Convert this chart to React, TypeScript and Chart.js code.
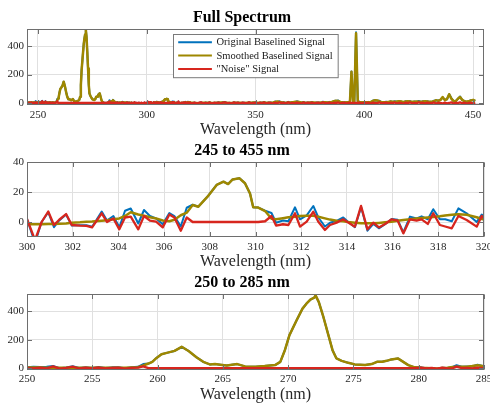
import React, { useEffect, useRef } from "react";
import { Chart, registerables } from "chart.js";

Chart.register(...registerables);

// ---------------- DATA ----------------
// Series labels
const seriesLabels = ["Original Baselined Signal", "Smoothed Baselined Signal", "\"Noise\" Signal"];

// Segment A: 245 - 249.5 nm (grid start 245, step 0.5)
const origA = [5, 0, 6, 1, 7, 0, 5, 1, 14, 0];
const smoothA = [3, 3, 3, 3, 3, 3, 3, 3, 3, 3];
const noiseA = [2, -3, 3, -2, 4, -3, 2, -2, 5, -3];

// Segment B1: 250 - 258.5 nm (grid start 250, step 0.5)
const origB1 = [6, 10, 7, 9, 15, -1, 5, 13, 0, 6, 1, 7, 0, 5, 6, -1, 6, 9];
const smoothB1 = [4, 4, 4, 3, 3, 3, 3, 3, 3, 3, 3, 3, 3, 3, 3, 3, 4, 6];
const noiseB1 = [2, -3, 3, -2, 12, -4, 2, 10, -3, 3, -2, 4, -3, 2, 3, -4, 2, 3];

// Segment B2: emission band 259 - 280 nm
const wlB2 = [258.9, 259.3, 259.6, 259.9, 260.3, 260.7, 261.3, 261.85, 262.4, 263.0, 263.5, 264.0, 264.4, 264.8, 265.3, 266.1, 266.7, 267.5, 268.2, 269.0, 269.4, 269.75, 270.1, 270.65, 271.1, 271.4, 271.7, 272.0, 272.1, 272.35, 272.7, 273.05, 273.4, 273.7, 274.1, 274.6, 275.1, 275.9, 276.4, 276.8, 277.2, 277.55, 277.9, 278.4, 278.7, 279.2, 279.7];
const origB2 = [28, 32, 44, 70, 98, 107, 121, 150, 119, 75, 44, 26, 28, 24, 19, 28, 12, 10, 14, 21, 44, 126, 232, 337, 419, 454, 482, 496, 512, 465, 360, 243, 126, 68, 51, 37, 26, 21, 28, 44, 44, 51, 61, 68, 51, 21, 5];
const smoothB2 = [18, 32, 44, 70, 98, 107, 121, 150, 119, 75, 44, 26, 28, 24, 19, 28, 12, 10, 14, 21, 44, 126, 232, 337, 419, 454, 482, 496, 512, 465, 360, 243, 126, 68, 51, 37, 26, 21, 28, 44, 44, 51, 61, 68, 51, 21, 5];
const noiseB2 = [12, 0, 0, 0, 0, 0, 0, 0, 0, 0, 0, 0, 0, 0, 0, 0, 0, 0, 0, 0, 0, 0, 0, 0, 0, 0, 0, 0, 0, 0, 0, 0, 0, 0, 0, 0, 0, 0, 0, 0, 0, 0, 0, 0, 0, 0, 0];

// Segment B3: 280 - 285 nm
const wlB3 = [280.2, 280.6, 281.0, 281.4, 281.8, 282.2, 282.6, 282.9, 283.3, 283.7, 284.1, 284.5, 285.0];
const origB3 = [5, -1, 1, -9, 3, 1, 8, 20, 9, 12, 11, 23, 12];
const smoothB3 = [2, 1, -1, -3, 0, 3, 8, 10, 9, 10, 14, 20, 12];
const noiseB3 = [3, -2, 2, -4, 3, -2, 0, 10, 0, 2, -3, 3, 0];

// Segment C: 285.5 - 299.5 nm (grid start 285.5, step 0.5)
const origC = [8, 0, 6, 0, 4, -1, 6, 9, 2, 3, 0, 6, 1, 4, -3, 4, -2, 1, 5, -4, 1, -2, 2, -5, 1, -1, -3, 3, -4.5];
const smoothC = [6, 3, 2, 2, 3, 3, 3, 4, 4, 3, 3, 2, 2, 2, 1, 1, 0, 0, 0, -1, -1, -1, -1, -1, -1, -1, -1, -1, -1.5];
const noiseC = [2, -3, 4, -2, 1, -4, 3, 5, -2, 0, -3, 4, -1, 2, -4, 3, -2, 1, 5, -3, 2, -1, 3, -4, 2, 0, -2, 4, -3];

// Segment D: 300 - 320 nm (detail)
const wlD = [300.0, 300.35, 300.64, 300.93, 301.18, 301.41, 301.71, 301.96, 302.32, 302.6, 302.85, 303.27, 303.5, 303.78, 304.04, 304.29, 304.54, 304.87, 305.12, 305.38, 305.65, 305.94, 306.23, 306.45, 306.73, 306.99, 307.25, 307.5, 307.9, 308.3, 308.6, 308.8, 309.0, 309.3, 309.54, 309.76, 309.9, 310.12, 310.42, 310.7, 310.9, 311.2, 311.44, 311.73, 311.95, 312.24, 312.53, 312.75, 313.04, 313.26, 313.55, 313.84, 314.06, 314.35, 314.62, 314.9, 315.16, 315.4, 315.67, 315.96, 316.22, 316.47, 316.76, 317.05, 317.27, 317.54, 317.78, 318.07, 318.3, 318.59, 318.88, 319.24, 319.68, 319.9, 320.15];
const origD = [2, -14, 0, 6.5, -3.5, 1, 5, -2.3, -2.2, -2.2, -3.2, 7, 1, 4, -3.5, 7.5, 9, -1, 8, 4, 2.4, -1.5, 6, 4, -3, 9.5, 11.5, 10.2, 16.9, 24.7, 26.9, 25.3, 28.4, 29.1, 25.8, 19, 9.8, 9.6, 7.5, 6, -0.5, 1, 0.5, 9.8, 1.8, 4.4, 10.7, 3, -3, -0.5, 0.8, 3, 0, -3.5, 10, -5.8, -1.3, -4.2, -1.5, 2, 1.5, -7, 3.6, 2.4, 3.8, 1.8, 8.5, 1.8, 1.8, 0.5, 9.1, 5.8, 0, 5, 2];
const smoothD = [-1.5, -1.5, -1.5, -1.4, -1.3, -1.2, -1, -0.5, -0.2, 0.2, 0.4, 0.9, 1.2, 1.8, 2.4, 4, 6.5, 5, 4.2, 3.2, 2.4, 1, 0.5, 1.5, 4.5, 6.2, 11.3, 10.2, 16.9, 24.7, 26.9, 25.3, 28.4, 29.1, 25.8, 19, 9.8, 9.6, 7.3, 2.2, 1.8, 2.5, 3.1, 3.5, 4, 4.2, 4.2, 3.5, 2.4, 1.6, 0.9, 0.5, 0, -0.5, -0.9, -0.9, -0.9, -0.6, -0.2, 0.2, 0.8, 1.3, 1.8, 2.3, 2.7, 3, 3.3, 3.8, 4.3, 4.8, 5.2, 4.8, 3.2, 2, 1.3];
const noiseD = [2, -12, 0, 7, -2, 1.5, 5.3, -2, -2.4, -2.6, -3.6, 5.8, 0, 2.4, -4.9, 3, 3.6, -4.9, 4, 0.9, 0.2, -3.6, 5, 3, -5.8, 3, 0, 0, 0, 0, 0, 0, 0, 0, 0, 0, 0, 0, 0.5, 4, -2.4, -1.5, -2, 5.8, -3.1, 0.2, 6.9, 0.2, -5.3, -2, -0.4, 1.8, -0.4, -3.1, 10.7, -4.9, -0.4, -3.6, -1.3, 1.8, 0.9, -7.6, 1.8, 0.9, 1.8, -1.3, 5.8, -2, -3, -4.2, 4, 1.3, -3.1, 4, 0.2];

// Segment E1: 321 - 392 nm (grid start 321, step 1)
const origE1 = [-1, 3, -4, 1, 5, -2, 3, 0, 5, -3, 2, 0, 5, -1, 5, 7, -1, 1, -3, 5, 1, 4, -3, 3, 1, -2, 6, 0, 3, 5, -3, 3, 1, 7, -1, 3, 3, -1, 11, 8, 12, 4, 5, -1, 8, 2, 7, 4, 12, 7, 1, 7, 0, 4, 2, 7, -1, 3, 4, 0, 9, 3, 4, 8, 4, 14, 15, 18, 5, 6, 6, 1];
const smoothE1 = [1, 0, 0, -1, 0, 1, 2, 2, 1, 0, 0, 1, 2, 3, 3, 2, 1, 0, 0, 1, 2, 2, 1, 0, 0, 1, 1, 2, 3, 2, 1, 1, 2, 3, 2, 1, 2, 4, 8, 10, 8, 5, 3, 2, 3, 4, 6, 8, 9, 7, 4, 3, 2, 2, 3, 4, 3, 2, 2, 3, 4, 5, 4, 5, 8, 12, 16, 14, 8, 5, 4, 5];
const noiseE1 = [-2, 3, -4, 2, 5, -3, 1, -2, 4, -3, 2, -1, 3, -4, 2, 5, -2, 1, -3, 4, -1, 2, -4, 3, 1, -3, 5, -2, 0, 3, -4, 2, -1, 4, -3, 2, 1, -5, 3, -2, 4, -1, 2, -3, 5, -2, 1, -4, 3, 0, -3, 4, -2, 2, -1, 3, -4, 1, 2, -3, 5, -2, 0, 3, -4, 2, -1, 4, -3, 1, 2, -4];

// Segment E2: Ca II doublet region
const wlE2 = [393, 393.4, 394.1, 394.8, 395.4, 396.2, 397.0, 398];
const origE2 = [9, 10, 222, 12, 10, 497, 12, 8];
const smoothE2 = [6, 10, 220, 12, 10, 490, 12, 6];
const noiseE2 = [3, 0, 0, 0, 0, 0, 0, 2];

// Segment E3: 399 - 451 nm (grid start 399, step 1)
const origE3 = [2, 8, 4, 8, 4, 17, 20, 16, 15, 3, 6, 9, 4, 12, 8, 12, 7, 14, 10, 3, 13, 11, 14, 6, 10, 7, 14, 7, 12, 8, 13, 8, 7, 16, 17, 17, 23, 38, 23, 26, 62, 35, 12, 14, 29, 46, 20, 15, 5, 13, 20, 19, 15];
const smoothE3 = [5, 4, 5, 6, 8, 14, 20, 18, 10, 6, 5, 6, 8, 10, 9, 8, 10, 12, 10, 8, 10, 12, 10, 8, 9, 10, 9, 8, 10, 12, 10, 8, 9, 12, 20, 15, 22, 42, 20, 28, 62, 30, 15, 12, 30, 42, 22, 12, 10, 12, 18, 22, 15];
const noiseE3 = [-3, 4, -1, 2, -4, 3, 0, -2, 5, -3, 1, 3, -4, 2, -1, 4, -3, 2, 0, -5, 3, -1, 4, -2, 1, -3, 5, -1, 2, -4, 3, 0, -2, 4, -3, 2, 1, -4, 3, -2, 0, 5, -3, 2, -1, 4, -2, 3, -5, 1, 2, -3, 0];

// Tick labels
const xTicksFull = [250, 300, 350, 400, 450];
const yTicksFull = [0, 200, 400];
const xTicksMid = [300, 302, 304, 306, 308, 310, 312, 314, 316, 318, 320];
const yTicksMid = [0, 20, 40];
const xTicksZoom = [250, 255, 260, 265, 270, 275, 280, 285];
const yTicksZoom = [0, 200, 400];

// ---------------- STYLE ----------------
const SERIF = "'Liberation Serif', 'Times New Roman', Times, serif";
const COLORS = ["#0072BD", "#9E8700", "#D7261E"];
const LINE_WIDTHS = [2, 2.5, 2.3];
const W = 510;
const H = 403;

function sampleGrid(start: number, step: number, n: number) {
  const out: number[] = [];
  for (let i = 0; i < n; i++) out.push(+(start + i * step).toFixed(3));
  return out;
}

const segments = [
  { wl: sampleGrid(245, 0.5, origA.length), o: origA, s: smoothA, n: noiseA },
  { wl: sampleGrid(250, 0.5, origB1.length), o: origB1, s: smoothB1, n: noiseB1 },
  { wl: wlB2, o: origB2, s: smoothB2, n: noiseB2 },
  { wl: wlB3, o: origB3, s: smoothB3, n: noiseB3 },
  { wl: sampleGrid(285.5, 0.5, origC.length), o: origC, s: smoothC, n: noiseC },
  { wl: wlD, o: origD, s: smoothD, n: noiseD },
  { wl: sampleGrid(321, 1, origE1.length), o: origE1, s: smoothE1, n: noiseE1 },
  { wl: wlE2, o: origE2, s: smoothE2, n: noiseE2 },
  { wl: sampleGrid(399, 1, origE3.length), o: origE3, s: smoothE3, n: noiseE3 },
];

function buildPoints(key: "o" | "s" | "n") {
  const pts: { x: number; y: number }[] = [];
  for (const seg of segments) {
    const arr = seg[key];
    for (let i = 0; i < seg.wl.length; i++) {
      if (arr[i] !== undefined) pts.push({ x: seg.wl[i], y: arr[i] });
    }
  }
  return pts;
}

const panels = [
  { title: "Full Spectrum", xMin: 245, xMax: 455, xTicks: xTicksFull, yMin: -14, yMax: 520, yTicks: yTicksFull, top: 29, bottom: 105, legend: true },
  { title: "245 to 455 nm", xMin: 300, xMax: 320, xTicks: xTicksMid, yMin: -10, yMax: 40, yTicks: yTicksMid, top: 162, bottom: 237, legend: false },
  { title: "250 to 285 nm", xMin: 250, xMax: 285, xTicks: xTicksZoom, yMin: -10, yMax: 522, yTicks: yTicksZoom, top: 294, bottom: 369.5, legend: false },
];

const boxPlugin = {
  id: "matlabBox",
  afterDatasetsDraw(chart: any) {
    const { ctx, chartArea: a, scales } = chart;
    ctx.save();
    ctx.strokeStyle = "#6e6e6e";
    ctx.lineWidth = 1;
    const L = 4.5;
    const l = Math.round(a.left) + 0.5;
    const r = Math.round(a.right) - 0.5;
    const t = Math.round(a.top) + 0.5;
    const b = Math.round(a.bottom) - 0.5;
    ctx.beginPath();
    for (const tk of scales.x.ticks) {
      const px = Math.round(scales.x.getPixelForValue(tk.value)) + 0.5;
      ctx.moveTo(px, b);
      ctx.lineTo(px, b - L);
      ctx.moveTo(px, t);
      ctx.lineTo(px, t + L);
    }
    for (const tk of scales.y.ticks) {
      const py = Math.round(scales.y.getPixelForValue(tk.value)) + 0.5;
      ctx.moveTo(l, py);
      ctx.lineTo(l + L, py);
      ctx.moveTo(r, py);
      ctx.lineTo(r - L, py);
    }
    ctx.stroke();
    ctx.strokeRect(l, t, r - l, b - t);
    ctx.restore();
  },
};

const legendPlugin = {
  id: "matlabLegend",
  afterDraw(chart: any, _args: any, opts: any) {
    if (!opts || !opts.display) return;
    const { ctx, chartArea: a } = chart;
    ctx.save();
    ctx.font = `10.5px ${SERIF}`;
    const labels: string[] = chart.data.datasets.map((d: any) => d.label);
    const maxW = Math.max(...labels.map((s) => ctx.measureText(s).width));
    const padL = 4.7, lineLen = 33.7, gap = 4.6, padR = 5.6, rowH = 13.4;
    const w = padL + lineLen + gap + maxW + padR;
    const h = 1 + rowH * labels.length + 2;
    const x0 = Math.round((a.left + a.right) / 2 - w / 2) + 0.5;
    const y0 = Math.round(a.top + 5.3) + 0.5;
    ctx.fillStyle = "#ffffff";
    ctx.fillRect(x0, y0, w, h);
    ctx.strokeStyle = "#7a7a7a";
    ctx.lineWidth = 1;
    ctx.strokeRect(x0, y0, w, h);
    chart.data.datasets.forEach((d: any, i: number) => {
      const cy = y0 + 1 + rowH * (i + 0.5);
      ctx.strokeStyle = d.borderColor;
      ctx.lineWidth = 2;
      ctx.beginPath();
      ctx.moveTo(x0 + padL, cy);
      ctx.lineTo(x0 + padL + lineLen, cy);
      ctx.stroke();
      ctx.fillStyle = "#1a1a1a";
      ctx.textBaseline = "middle";
      ctx.textAlign = "left";
      ctx.fillText(d.label, x0 + padL + lineLen + gap, cy + 0.5);
    });
    ctx.restore();
  },
};

function makeConfig(p: (typeof panels)[number]): any {
  const keys: ("o" | "s" | "n")[] = ["o", "s", "n"];
  const datasets = keys.map((k, i) => ({
    label: seriesLabels[i],
    data: buildPoints(k),
    borderColor: COLORS[i],
    backgroundColor: COLORS[i],
    borderWidth: LINE_WIDTHS[i],
    pointRadius: 0,
    tension: 0,
    fill: false,
    clip: 0,
    borderJoinStyle: "round",
    order: 3 - i,
  }));
  const tickFont = { family: SERIF, size: 11 };
  return {
    type: "line",
    data: { datasets },
    plugins: [boxPlugin, legendPlugin],
    options: {
      responsive: false,
      animation: false,
      devicePixelRatio: 1,
      events: [],
      layout: { padding: { top: p.top - 20.5, bottom: H - p.bottom - 33, left: 0, right: W - 484 } },
      plugins: {
        legend: { display: false },
        tooltip: { enabled: false },
        title: {
          display: true,
          text: p.title,
          color: "#000000",
          font: { family: SERIF, size: 16, weight: "bold", lineHeight: 1.2 },
          padding: { top: 0, bottom: 1.3 },
        },
        matlabLegend: { display: p.legend },
      },
      scales: {
        x: {
          type: "linear",
          min: p.xMin,
          max: p.xMax,
          afterBuildTicks: (s: any) => {
            s.ticks = p.xTicks.map((v) => ({ value: v }));
          },
          afterFit: (s: any) => {
            s.height = 33;
          },
          ticks: { autoSkip: false, maxRotation: 0, minRotation: 0, padding: 3.5, color: "#262626", font: tickFont, callback: (v: any) => String(v) },
          grid: { color: "#e0e0e0", drawTicks: false, lineWidth: 1 },
          border: { display: false },
          title: { display: true, text: "Wavelength (nm)", color: "#262626", font: { family: SERIF, size: 16, lineHeight: 1 }, padding: 0 },
        },
        y: {
          type: "linear",
          min: p.yMin,
          max: p.yMax,
          afterBuildTicks: (s: any) => {
            s.ticks = p.yTicks.map((v) => ({ value: v }));
          },
          afterFit: (s: any) => {
            s.width = 27;
          },
          ticks: { autoSkip: false, padding: 3, color: "#262626", font: tickFont, callback: (v: any) => String(v) },
          grid: { color: "#e0e0e0", drawTicks: false, lineWidth: 1 },
          border: { display: false },
        },
      },
    },
  };
}

function Panel({ index }: { index: number }) {
  const ref = useRef<HTMLCanvasElement | null>(null);
  useEffect(() => {
    if (!ref.current) return;
    const chart = new Chart(ref.current, makeConfig(panels[index]));
    return () => chart.destroy();
  }, [index]);
  return <canvas ref={ref} width={W} height={H} style={{ position: "absolute", left: 0, top: 0, width: W, height: H }} />;
}

export default function App() {
  return (
    <div style={{ position: "fixed", left: 0, top: 0, width: 490, height: 403, overflow: "hidden", background: "#ffffff" }}>
      {panels.map((_, i) => (
        <Panel key={i} index={i} />
      ))}
    </div>
  );
}
